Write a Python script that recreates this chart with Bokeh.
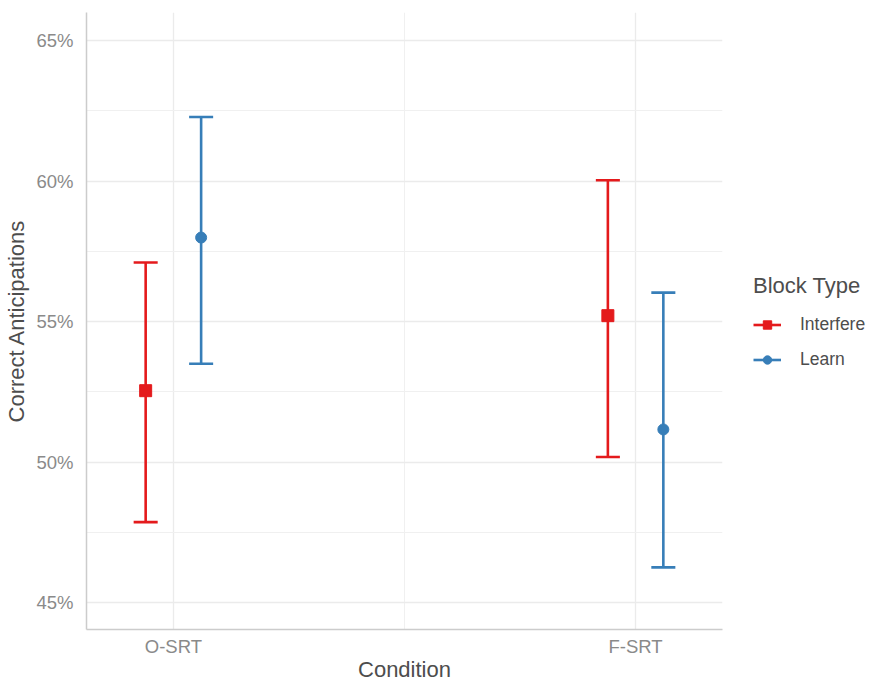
from bokeh.plotting import figure
from bokeh.models import (ColumnDataSource, NumeralTickFormatter, FixedTicker, Legend, LegendItem, Range1d)
from bokeh.embed import file_html
from bokeh.resources import INLINE

conditions = ["O-SRT", "F-SRT"]
block_types = ["Interfere", "Learn"]
means = {"Interfere": [0.5254, 0.5521], "Learn": [0.5799, 0.5116]}
lower = {"Interfere": [0.4786, 0.5018], "Learn": [0.5350, 0.4625]}
upper = {"Interfere": [0.5710, 0.6003], "Learn": [0.6228, 0.5603]}
y_ticks = [0.45, 0.50, 0.55, 0.60, 0.65]
y_minor = [0.475, 0.525, 0.575, 0.625]

colors = {"Interfere": "#E41A1C", "Learn": "#377EB8"}
markers = {"Interfere": "square", "Learn": "circle"}
sizes = {"Interfere": 12, "Learn": 11}
dodge = {"Interfere": -0.06, "Learn": 0.06}
cap = 0.026
FONT = "Liberation Sans"

p = figure(frame_width=636, frame_height=617, output_backend="svg", toolbar_location=None,
           x_range=Range1d(0.812, 2.188), y_range=Range1d(0.4404, 0.660),
           min_border_left=86, min_border_right=10, min_border_top=12, min_border_bottom=50)
p.outline_line_color = None
p.background_fill_color = "white"

items = []
for bt in block_types:
    xs = [i + 1 + dodge[bt] for i in range(len(conditions))]
    src = ColumnDataSource(dict(x=xs, m=means[bt], lo=lower[bt], hi=upper[bt],
                                xl=[x - cap for x in xs], xr=[x + cap for x in xs]))
    r1 = p.segment(x0="x", y0="lo", x1="x", y1="hi", source=src, line_color=colors[bt], line_width=2.6)
    p.segment(x0="xl", y0="lo", x1="xr", y1="lo", source=src, line_color=colors[bt], line_width=2.6)
    p.segment(x0="xl", y0="hi", x1="xr", y1="hi", source=src, line_color=colors[bt], line_width=2.6)
    r2 = p.scatter(x="x", y="m", source=src, marker=markers[bt], size=sizes[bt],
                   fill_color=colors[bt], line_color=colors[bt])
    items.append(LegendItem(label=bt, renderers=[r1, r2]))

legend = Legend(items=items, location=(31, 259), title="Block Type",
                title_text_font=FONT, title_text_font_size="22px", title_text_color="#4d4d4d",
                title_text_font_style="normal", title_standoff=15,
                label_text_font=FONT, label_text_font_size="17.5px", label_text_color="#4d4d4d",
                border_line_color=None, background_fill_alpha=0,
                glyph_width=28, glyph_height=21, spacing=14, label_standoff=19,
                padding=4, margin=0)
p.add_layout(legend, "right")

# axes
p.xaxis.ticker = FixedTicker(ticks=[1, 2], minor_ticks=[1.5])
p.xaxis.major_label_overrides = {1: conditions[0], 2: conditions[1]}
p.yaxis.ticker = FixedTicker(ticks=y_ticks, minor_ticks=y_minor)
p.yaxis.formatter = NumeralTickFormatter(format="0%")
for ax in (p.xaxis, p.yaxis):
    ax.axis_line_color = "#cccccc"
    ax.axis_line_width = 1.5
    ax.major_tick_line_color = None
    ax.minor_tick_line_color = None
    ax.major_label_text_font = FONT
    ax.major_label_text_font_size = "18.5px"
    ax.major_label_text_color = "#8a8a8a"
    ax.axis_label_text_font = FONT
    ax.axis_label_text_font_size = "22px"
    ax.axis_label_text_font_style = "normal"
    ax.axis_label_text_color = "#4d4d4d"
p.xaxis.axis_label = "Condition"
p.yaxis.axis_label = "Correct Anticipations"
p.xaxis.major_label_standoff = 0
p.yaxis.major_label_standoff = 7
p.xaxis.axis_label_standoff = -3
p.yaxis.axis_label_standoff = 4

p.xgrid.grid_line_color = "#ebebeb"
p.ygrid.grid_line_color = "#ebebeb"
p.xgrid.grid_line_width = 1.3
p.ygrid.grid_line_width = 1.3
p.xgrid.minor_grid_line_color = "#f0f0f0"
p.ygrid.minor_grid_line_color = "#f0f0f0"
p.xgrid.minor_grid_line_width = 1
p.ygrid.minor_grid_line_width = 1

open("out.html", "w").write(file_html(p, INLINE))
